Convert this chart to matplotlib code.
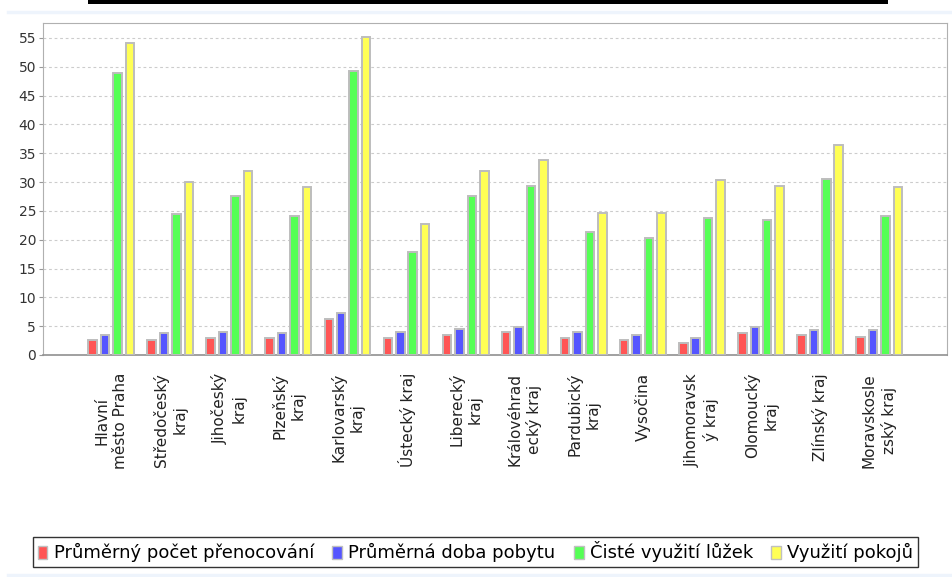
import numpy as np
import matplotlib
matplotlib.use("Agg")
import matplotlib.pyplot as plt
from matplotlib.patches import Rectangle
from matplotlib.lines import Line2D

regions = [
    "Hlavní\nměsto Praha", "Středočeský\nkraj", "Jihočeský\nkraj", "Plzeňský\nkraj",
    "Karlovarský\nkraj", "Ústecký kraj", "Liberecký\nkraj", "Královéhrad\necký kraj",
    "Pardubický\nkraj", "Vysočina", "Jihomoravsk\ný kraj", "Olomoucký\nkraj",
    "Zlínský kraj", "Moravskosle\nzský kraj",
]
series_names = [
    "Průměrný počet přenocování", "Průměrná doba pobytu",
    "Čisté využití lůžek", "Využití pokojů",
]
prenocovani = [2.6, 2.6, 2.9, 2.9, 6.25, 2.9, 3.5, 4.0, 2.9, 2.6, 2.0, 3.8, 3.5, 3.2]
doba_pobytu = [3.5, 3.8, 4.0, 3.8, 7.35, 4.0, 4.5, 4.8, 4.0, 3.5, 2.9, 4.8, 4.3, 4.3]
vyuziti_luzek = [48.9, 24.4, 27.5, 24.1, 49.2, 17.8, 27.5, 29.4, 21.4, 20.3, 23.8, 23.5, 30.6, 24.1]
vyuziti_pokoju = [54.2, 30.0, 31.9, 29.1, 55.1, 22.7, 31.9, 33.9, 24.7, 24.7, 30.3, 29.4, 36.4, 29.1]
yticks = list(range(0, 56, 5))

series = [prenocovani, doba_pobytu, vyuziti_luzek, vyuziti_pokoju]
colors = ["#ff5555", "#5555ff", "#55ff55", "#ffff55"]

fig = plt.figure(figsize=(9.52, 5.77), dpi=100)
fig.patch.set_facecolor("white")
ax = fig.add_axes([43 / 952, 1 - 355 / 577, 904 / 952, 332 / 577])

x = np.arange(len(regions))
step = 0.2104
width = 0.144
for k, (vals, col) in enumerate(zip(series, colors)):
    ax.bar(x + (k - 1.5) * step, vals, width, color=col, edgecolor="#bdbdbd",
           linewidth=1.4, label=series_names[k], zorder=3)

ax.set_xlim(-1.153, 14.148)
ax.set_ylim(0, 57.6)
ax.set_yticks(yticks)
ax.yaxis.grid(True, color="#cccccc", linestyle=(0, (2.5, 2.5)), linewidth=0.8, zorder=0)
ax.tick_params(axis="y", labelsize=10, colors="#333333", length=3, width=0.8,
               pad=2, color="#999999")
ax.set_xticks(x)
ax.set_xticklabels(regions, rotation=90, va="top", ha="center",
                   multialignment="center", fontsize=11, color="#222222",
                   linespacing=1.3)
ax.tick_params(axis="x", length=0, pad=13)
for side in ["left", "top", "right"]:
    ax.spines[side].set_color("#b0b0b0")
ax.spines["bottom"].set_color("#909090")
ax.spines["bottom"].set_linewidth(1.2)

handles = [Rectangle((0, 0), 1, 1, facecolor=c, edgecolor="#c0c0c0", linewidth=1)
           for c in colors]
leg = fig.legend(handles, series_names, loc="center", bbox_to_anchor=(475.5 / 952, 1 - 552 / 577),
                 ncol=4, fontsize=13, frameon=True, fancybox=False, handlelength=0.55,
                 handleheight=0.75, handletextpad=0.35, columnspacing=1.0,
                 borderpad=0.25, borderaxespad=0)
leg.get_frame().set_edgecolor("black")
leg.get_frame().set_linewidth(1.0)

# cut-off title underline and pale panel border
fig.add_artist(Rectangle((88 / 952, 1 - 4 / 577), 800 / 952, 4 / 577,
                         transform=fig.transFigure, facecolor="black", edgecolor="none"))
for yy in [12, 575]:
    fig.add_artist(Line2D([8 / 952, 1], [1 - yy / 577] * 2, transform=fig.transFigure,
                          color="#eef4fc", linewidth=2.5))

fig.savefig("out.png", dpi=100, facecolor="white")
